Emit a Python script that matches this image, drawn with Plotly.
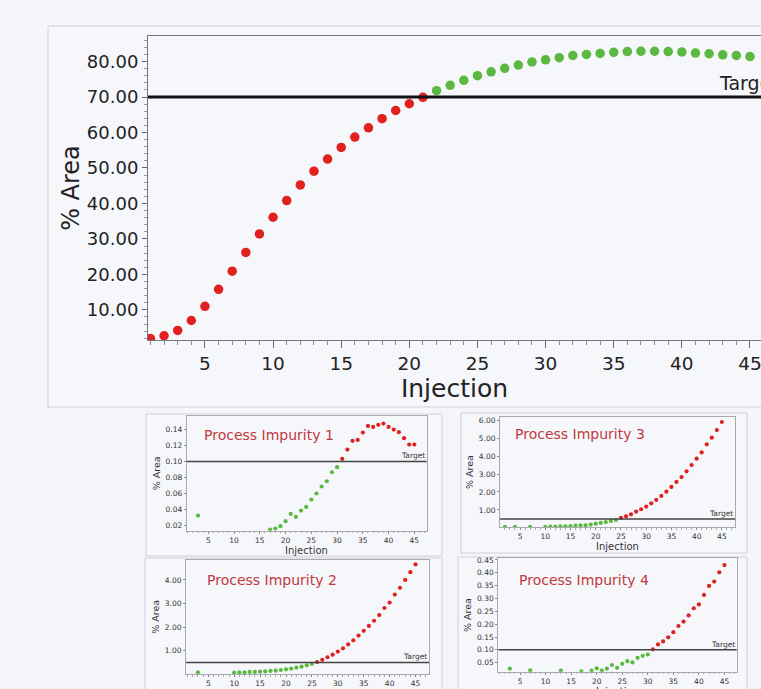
import plotly.graph_objects as go

W, H = 761, 689

# ---------------- data ----------------
main_inj = list(range(1, 46))
main_area = [1.9, 2.7, 4.2, 7.0, 11.0, 15.8, 20.9, 26.2, 31.4, 36.1, 40.8, 45.2, 49.1,
             52.5, 55.8, 58.7, 61.3, 63.9, 66.2, 68.1, 69.9, 71.8, 73.3, 74.7, 76.0,
             77.1, 78.1, 79.0, 79.9, 80.5, 81.1, 81.7, 82.0, 82.3, 82.6, 82.8, 82.9,
             82.9, 82.8, 82.7, 82.4, 82.2, 81.9, 81.7, 81.4]
main_target = 70.0

imp1_inj = [3, 17, 18, 19, 20, 21, 22, 23, 24, 25, 26, 27, 28, 29, 30, 31, 32, 33, 34,
            35, 36, 37, 38, 39, 40, 41, 42, 43, 44, 45]
imp1_area = [0.032, 0.0145, 0.0157, 0.0187, 0.0249, 0.0341, 0.0304, 0.0383, 0.0429,
             0.0521, 0.0597, 0.0685, 0.0751, 0.0864, 0.0927, 0.1032, 0.1149, 0.1258,
             0.127, 0.1362, 0.1446, 0.1433, 0.1459, 0.1475, 0.1433, 0.14, 0.1367,
             0.1291, 0.1212, 0.1212]
imp1_target = 0.10

imp2_inj = [3, 10, 11, 12, 13, 14, 15, 16, 17, 18, 19, 20, 21, 22, 23, 24, 25, 26, 27,
            28, 29, 30, 31, 32, 33, 34, 35, 36, 37, 38, 39, 40, 41, 42, 43, 44, 45]
imp2_area = [0.08, 0.07, 0.08, 0.08, 0.10, 0.10, 0.11, 0.12, 0.14, 0.15, 0.18, 0.21,
             0.24, 0.28, 0.32, 0.38, 0.44, 0.52, 0.61, 0.72, 0.83, 0.96, 1.10, 1.27,
             1.44, 1.64, 1.84, 2.05, 2.27, 2.51, 2.81, 3.04, 3.38, 3.67, 4.00, 4.33, 4.66]
imp2_target = 0.50

imp3_inj = [2, 4, 7, 10, 11, 12, 13, 14, 15, 16, 17, 18, 19, 20, 21, 22, 23, 24, 25, 26,
            27, 28, 29, 30, 31, 32, 33, 34, 35, 36, 37, 38, 39, 40, 41, 42, 43, 44, 45]
imp3_area = [0.06, 0.06, 0.06, 0.06, 0.07, 0.07, 0.09, 0.09, 0.11, 0.13, 0.15, 0.15,
             0.19, 0.24, 0.28, 0.33, 0.39, 0.44, 0.56, 0.65, 0.76, 0.91, 1.04, 1.19,
             1.37, 1.56, 1.78, 2.02, 2.28, 2.56, 2.83, 3.15, 3.50, 3.85, 4.20, 4.65,
             5.02, 5.44, 5.89]
imp3_target = 0.50

imp4_inj = [3, 7, 13, 17, 19, 20, 21, 22, 23, 24, 25, 26, 27, 28, 29, 30, 31, 32, 33,
            34, 35, 36, 37, 38, 39, 40, 41, 42, 43, 44, 45]
imp4_area = [0.0266, 0.020, 0.019, 0.016, 0.019, 0.028, 0.019, 0.027, 0.041, 0.030,
             0.046, 0.056, 0.051, 0.069, 0.077, 0.082, 0.102, 0.121, 0.133, 0.149,
             0.169, 0.193, 0.210, 0.234, 0.262, 0.277, 0.314, 0.349, 0.366, 0.402, 0.430]
imp4_target = 0.10

x_ticks = [5, 10, 15, 20, 25, 30, 35, 40, 45]

RED = "#e0211f"
GREEN = "#5bb840"
FONT = "DejaVu Sans"
TITLE_RED = "#c0393b"


def dom_x(p0, p1):
    return [p0 / W, p1 / W]


def dom_y(p0, p1):
    return [1 - p1 / H, 1 - p0 / H]


fig = go.Figure()
layout = dict(
    width=W, height=H, margin=dict(l=0, r=0, t=0, b=0, autoexpand=False),
    paper_bgcolor="#f5f6fa", plot_bgcolor="#f5f6fa",
    showlegend=False, font=dict(family=FONT, color="#222"),
    shapes=[], annotations=[],
)


def add_points(xs, ys, target, above_is_bad, xa, ya, size):
    red_x, red_y, gr_x, gr_y = [], [], [], []
    for x, y in zip(xs, ys):
        bad = (y > target) if above_is_bad else (y < target)
        if bad:
            red_x.append(x); red_y.append(y)
        else:
            gr_x.append(x); gr_y.append(y)
    for xx, yy, c in ((gr_x, gr_y, GREEN), (red_x, red_y, RED)):
        fig.add_trace(go.Scatter(x=xx, y=yy, mode="markers", xaxis=xa, yaxis=ya,
                                 marker=dict(color=c, size=size, line=dict(width=0)),
                                 cliponaxis=True, hoverinfo="x+y"))


def frame(x0, y0, x1, y1):
    layout["shapes"].append(dict(type="rect", xref="paper", yref="paper", layer="below",
                                 x0=x0 / W, x1=x1 / W, y0=1 - y1 / H, y1=1 - y0 / H,
                                 line=dict(color="#cfd0d6", width=1), fillcolor="#f6f7fb"))


# ---------------- main chart ----------------
frame(48, 26, 800, 407)
layout["xaxis"] = dict(domain=dom_x(148, 761), range=[0.82, 45.81], anchor="y",
                       automargin=False, ticklabeloverflow="allow",
                       tickvals=x_ticks, ticks="outside", ticklen=7, tickcolor="#666",
                       showgrid=False, zeroline=False, showline=True, linecolor="#777",
                       mirror=True, tickfont=dict(size=18.5, color="#222"),
                       minor=dict(dtick=1, ticks="outside", ticklen=4, tickcolor="#888"),
                       title=dict(text="Injection", font=dict(size=25, color="#222"), standoff=4))
layout["yaxis"] = dict(domain=dom_y(36, 340), range=[1.5, 87.2], anchor="x",
                       automargin=False, ticklabeloverflow="allow",
                       tickvals=[10, 20, 30, 40, 50, 60, 70, 80], tickformat=".2f",
                       ticks="outside", ticklen=5, tickcolor="#666",
                       showgrid=False, zeroline=False, showline=True, linecolor="#777",
                       mirror=True, tickfont=dict(size=18, color="#222"),
                       minor=dict(dtick=2, ticks="outside", ticklen=3, tickcolor="#999"),
                       title=dict(text="% Area", font=dict(size=24, color="#222"), standoff=0))
layout["shapes"].append(dict(type="line", xref="x domain", yref="y", x0=0, x1=1,
                             y0=main_target, y1=main_target, line=dict(color="#111", width=3)))
layout["annotations"].append(dict(text="Target", xref="paper", yref="y", x=717 / W, y=main_target,
                                  xanchor="left", yanchor="bottom", yshift=1, showarrow=False,
                                  font=dict(size=19, color="#222")))
add_points(main_inj, main_area, main_target, False, "x", "y", 9.5)

# ---------------- small charts ----------------
small = [
    (2, (146, 414, 442, 556), (186.7, 426.7, 416, 530.7), [0.8, 47.4], [0.013, 0.157],
     [0.02, 0.04, 0.06, 0.08, 0.10, 0.12, 0.14], ".2f", imp1_inj, imp1_area, imp1_target,
     "Process Impurity 1", (201.7, 435)),
    (3, (461, 413, 747, 553), (500, 735, 416.7, 527.3), [1.03, 47.6], [0.037, 6.185],
     [1, 2, 3, 4, 5, 6], ".2f", imp3_inj, imp3_area, imp3_target,
     "Process Impurity 3", (513.3, 434.3)),
    (4, (145, 558, 442, 720), (186, 429, 559.7, 674), [0.7, 47.6], [0.01, 4.86],
     [1, 2, 3, 4], ".2f", imp2_inj, imp2_area, imp2_target,
     "Process Impurity 2", (205, 580)),
    (5, (458, 557, 747, 720), (498.3, 736.7, 558.3, 671.7), [0.75, 47.4], [0.015, 0.4565],
     [0.05, 0.10, 0.15, 0.20, 0.25, 0.30, 0.35, 0.40, 0.45], ".2f", imp4_inj, imp4_area,
     imp4_target, "Process Impurity 4", (516.7, 580)),
]

for (n, fr, pp, xr, yr, yt, fmt, xs, ys, tgt, ttl, tp) in small:
    frame(*fr)
    xa, ya = f"x{n}", f"y{n}"
    layout[f"xaxis{n}"] = dict(domain=dom_x(pp[0], pp[1]), range=xr, anchor=ya,
                               automargin=False, ticklabeloverflow="allow",
                               tickvals=x_ticks, ticks="outside", ticklen=2, tickcolor="#888",
                               showgrid=False, zeroline=False, showline=True,
                               linecolor="#aaa", mirror=True,
                               tickfont=dict(size=7.5, color="#333"),
                               minor=dict(dtick=1, ticks="outside", ticklen=1.5, tickcolor="#aaa"))
    layout[f"yaxis{n}"] = dict(domain=dom_y(pp[2], pp[3]), range=yr, anchor=xa,
                               automargin=False, ticklabeloverflow="allow",
                               tickvals=yt, tickformat=fmt, ticks="outside", ticklen=2,
                               tickcolor="#888", showgrid=False, zeroline=False,
                               showline=True, linecolor="#aaa", mirror=True,
                               tickfont=dict(size=7.5, color="#333"),
                               title=dict(text="% Area", font=dict(size=9.5, color="#333"),
                                          standoff=3))
    # x-axis title below the tick labels (runs past the picture edge for the lower row, as in the source)
    layout["annotations"].append(dict(text="Injection", xref=f"{xa} domain", yref="paper",
                                      x=0.5, y=1 - (pp[3] + 19.5) / H, xanchor="center",
                                      yanchor="middle", showarrow=False,
                                      font=dict(size=10, color="#333")))
    layout["shapes"].append(dict(type="line", xref=f"{xa} domain", yref=ya, x0=0, x1=1,
                                 y0=tgt, y1=tgt, line=dict(color="#444", width=1.5)))
    layout["annotations"].append(dict(text="Target", xref=f"{xa} domain", yref=ya, x=1, y=tgt,
                                      xanchor="right", yanchor="bottom", showarrow=False,
                                      yshift=-1, font=dict(size=7.5, color="#333")))
    layout["annotations"].append(dict(text=ttl, xref="paper", yref="paper", x=tp[0] / W,
                                      y=1 - tp[1] / H, xanchor="left", yanchor="middle",
                                      showarrow=False, font=dict(size=14, color=TITLE_RED)))
    add_points(xs, ys, tgt, True, xa, ya, 4.2)

fig.update_layout(**layout)
fig.write_html(
    "out.html",
    config={"displayModeBar": False},
    post_script="document.body.style.margin='0';document.body.style.overflow='hidden';"
                "document.documentElement.style.overflow='hidden';",
)
